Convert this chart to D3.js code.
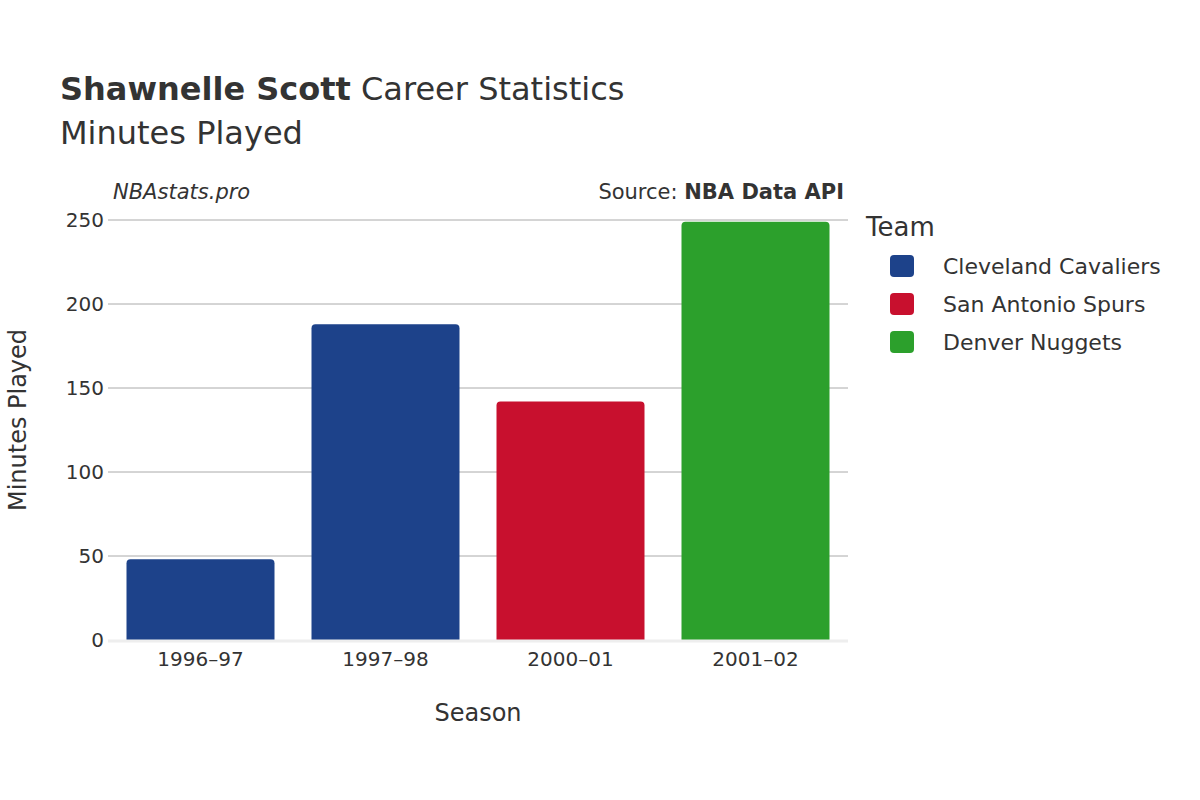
<!DOCTYPE html>
<html><head><meta charset="utf-8">
<script src="https://cdn.jsdelivr.net/npm/d3@7"></script>
<style>body{margin:0;background:#fff}text{font-family:"DejaVu Sans",sans-serif;fill:#333}</style>
</head><body><svg id="chart" width="1200" height="800"></svg>
<script>
const seasons = ['1996–97', '1997–98', '2000–01', '2001–02'];
const minutes = [48, 188, 142, 249];
const teams = ['Cleveland Cavaliers', 'Cleveland Cavaliers', 'San Antonio Spurs', 'Denver Nuggets'];
const legendTeams = ['Cleveland Cavaliers', 'San Antonio Spurs', 'Denver Nuggets'];
const teamColors = ['#1d428a', '#c8102e', '#2ca02c'];
const yTicks = [0, 50, 100, 150, 200, 250];

const svg = d3.select('#chart');
const m = {left: 108, right: 848, top: 220, bottom: 640};
const color = d3.scaleOrdinal(legendTeams, teamColors);
const x = d3.scaleBand(seasons, [m.left, m.right]).paddingInner(0.2).paddingOuter(0.1);
const y = d3.scaleLinear([0, 250], [m.bottom, m.top]);

svg.append('g').selectAll('line').data(yTicks.slice(1)).join('line')
  .attr('x1', m.left).attr('x2', m.right)
  .attr('y1', d => y(d)).attr('y2', d => y(d))
  .attr('stroke', '#aaa').attr('stroke-width', 1);

svg.append('g').selectAll('text').data(yTicks).join('text')
  .attr('x', m.left - 4).attr('y', d => y(d)).attr('dy', '0.35em')
  .attr('text-anchor', 'end').attr('font-size', 20).text(d => d);

svg.append('g').selectAll('path').data(seasons).join('path')
  .attr('fill', (d, i) => color(teams[i]))
  .attr('d', (d, i) => {
    const x0 = x(d), w = x.bandwidth(), y0 = y(minutes[i]), r = 4;
    return `M${x0},${m.bottom}V${y0 + r}Q${x0},${y0} ${x0 + r},${y0}H${x0 + w - r}Q${x0 + w},${y0} ${x0 + w},${y0 + r}V${m.bottom}Z`;
  });

svg.append('line').attr('x1', m.left).attr('x2', m.right)
  .attr('y1', m.bottom + 1).attr('y2', m.bottom + 1)
  .attr('stroke', '#eee').attr('stroke-width', 3);

svg.append('g').selectAll('text').data(seasons).join('text')
  .attr('x', d => x(d) + x.bandwidth() / 2).attr('y', 666)
  .attr('text-anchor', 'middle').attr('font-size', 20).text(d => d);

svg.append('text').attr('x', 478).attr('y', 721).attr('text-anchor', 'middle')
  .attr('font-size', 24).text('Season');
svg.append('text').attr('transform', 'translate(26,420) rotate(-90)')
  .attr('text-anchor', 'middle').attr('font-size', 24).text('Minutes Played');

const t = svg.append('text').attr('x', 60).attr('y', 100).attr('font-size', 32);
t.append('tspan').attr('font-weight', 'bold').text('Shawnelle Scott');
t.append('tspan').text(' Career Statistics');
svg.append('text').attr('x', 60).attr('y', 144).attr('font-size', 32).text('Minutes Played');

svg.append('text').attr('x', 113).attr('y', 199).attr('font-size', 21)
  .attr('font-style', 'italic').text('NBAstats.pro');
const s = svg.append('text').attr('x', 844).attr('y', 199).attr('font-size', 21).attr('text-anchor', 'end');
s.append('tspan').text('Source: ');
s.append('tspan').attr('font-weight', 'bold').text('NBA Data API');

svg.append('text').attr('x', 866).attr('y', 236).attr('font-size', 26).text('Team');
const lg = svg.append('g').selectAll('g').data(legendTeams).join('g')
  .attr('transform', (d, i) => `translate(890,${266 + i * 38})`);
lg.append('rect').attr('x', 0).attr('y', -11).attr('width', 24).attr('height', 22).attr('rx', 4)
  .attr('fill', d => color(d));
lg.append('text').attr('x', 53).attr('dy', '0.35em').attr('font-size', 22).text(d => d);
</script></body></html>
